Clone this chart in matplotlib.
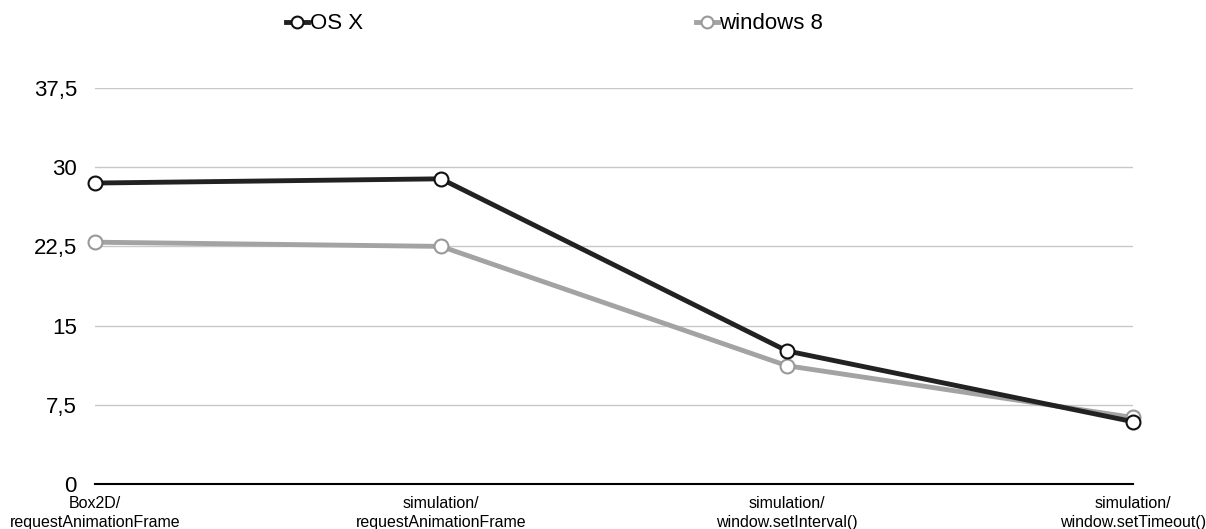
import matplotlib
matplotlib.use("Agg")
import matplotlib.pyplot as plt

# Daten
categories = ["Box2D/\nrequestAnimationFrame",
              "simulation/\nrequestAnimationFrame",
              "simulation/\nwindow.setInterval()",
              "simulation/\nwindow.setTimeout()"]
osx = [28.5, 28.9, 12.6, 5.9]
win8 = [22.9, 22.5, 11.2, 6.3]
yticks = [0, 7.5, 15, 22.5, 30, 37.5]
ytick_labels = ["0", "7,5", "15", "22,5", "30", "37,5"]

plt.rcParams["font.family"] = ["Liberation Sans", "DejaVu Sans"]

fig = plt.figure(figsize=(12.06, 5.29), dpi=100)
ax = fig.add_axes([95 / 1206, 45 / 529, (1133 - 95) / 1206, (484 - 88) / 529])

x = range(len(categories))
ax.plot(x, osx, color="#222222", lw=3.5, marker="o", ms=10, mfc="white",
        mec="#111111", mew=1.5, label="OS X", clip_on=False, zorder=4)
ax.plot(x, win8, color="#a3a3a3", lw=3.5, marker="o", ms=10, mfc="white",
        mec="#999999", mew=1.5, label="windows 8", clip_on=False, zorder=3)

ax.set_xlim(0, 3)
ax.set_ylim(0, 37.5)
ax.set_yticks(yticks)
ax.set_yticklabels(ytick_labels, fontsize=16)
ax.set_xticks(list(x))
ax.set_xticklabels(categories, fontsize=11.5, linespacing=1.3)
ax.tick_params(length=0)
ax.tick_params(axis="y", pad=13)
ax.tick_params(axis="x", pad=9)
ax.grid(axis="y", color="#c8c8c8", lw=1)
for s in ["top", "right", "left"]:
    ax.spines[s].set_visible(False)
ax.spines["bottom"].set_color("black")
ax.spines["bottom"].set_linewidth(1.5)
ax.set_axisbelow(True)

fig.legend(loc="center", bbox_to_anchor=(0.46, 0.955), ncol=2, frameon=False,
           fontsize=16, handlelength=1.0, handletextpad=0.05, columnspacing=15,
           markerscale=0.85)

plt.savefig("out.png", dpi=100)
